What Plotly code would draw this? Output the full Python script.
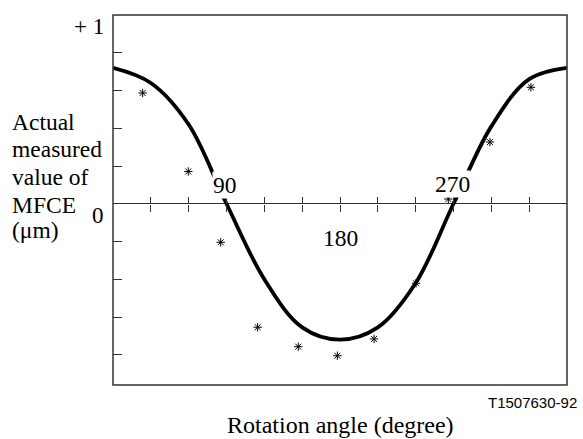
import plotly.graph_objects as go

# ---- data ----
curve_angle = [0, 30, 60, 90, 120, 150, 180, 210, 240, 270, 300, 330, 360]
curve_value = [0.72, 0.64, 0.42, 0.00, -0.40, -0.655, -0.72, -0.655, -0.42, 0.00, 0.41, 0.66, 0.72]

star_angle = [23.5, 59.7, 85.4, 114.7, 146.9, 177.9, 207.0, 240.3, 265.9, 298.9, 331.4]
star_value = [0.587, 0.171, -0.204, -0.654, -0.757, -0.805, -0.716, -0.421, 0.025, 0.327, 0.617]

x_ticks = [30, 60, 90, 120, 150, 180, 210, 240, 270, 300, 330]
y_ticks = [-0.8, -0.6, -0.4, -0.2, 0.2, 0.4, 0.6, 0.8]

angle_labels = ["90", "180", "270"]
angle_label_pos = [90, 180, 270]
value_labels = ["+ 1", "0", "\u2212 1"]
value_label_pos = [1, 0, -1]
y_title_lines = ["Actual", "measured", "value of", "MFCE", "(\u03bcm)"]
x_title = "Rotation angle (degree)"
figure_code = "T1507630-92"

# ---- layout constants ----
W, H = 583, 439
ML, MR, MT, MB = 113, 16, 15, 54
Y_RANGE = [-0.96, 1.0]
X_RANGE = [0, 360]
zero_pos = (0 - Y_RANGE[0]) / (Y_RANGE[1] - Y_RANGE[0])
SERIF = "Liberation Serif, Times New Roman, serif"
AX = "#333333"

fig = go.Figure()

fig.add_trace(go.Scatter(
    x=curve_angle, y=curve_value, mode="lines",
    line=dict(color="black", width=3.8, shape="spline", smoothing=1.0),
    hoverinfo="skip", showlegend=False, xaxis="x", yaxis="y"))

fig.add_trace(go.Scatter(
    x=star_angle, y=star_value, mode="markers",
    marker=dict(symbol="asterisk-open", size=7, color="black",
                line=dict(color="black", width=1.0)),
    hoverinfo="skip", showlegend=False, xaxis="x", yaxis="y"))

# invisible trace to activate the overlaid tick axis
fig.add_trace(go.Scatter(x=[X_RANGE[0]], y=[0], mode="markers",
                         marker=dict(opacity=0), hoverinfo="skip",
                         showlegend=False, xaxis="x2", yaxis="y"))

axis_common = dict(range=X_RANGE, tickvals=x_ticks, showticklabels=False,
                   showgrid=False, zeroline=False, showline=False,
                   ticklen=7, tickwidth=1.2, tickcolor=AX,
                   anchor="free", position=zero_pos)

fig.update_layout(
    width=W, height=H,
    margin=dict(l=ML, r=MR, t=MT, b=MB),
    paper_bgcolor="white", plot_bgcolor="white",
    xaxis=dict(ticks="outside", **axis_common),
    xaxis2=dict(ticks="inside", overlaying="x", **axis_common),
    yaxis=dict(range=Y_RANGE, tickvals=y_ticks, ticks="inside", ticklen=9,
               tickwidth=1.2, tickcolor=AX, showticklabels=False,
               showgrid=False, showline=False,
               zeroline=True, zerolinecolor=AX, zerolinewidth=1.3),
    shapes=[dict(type="rect", xref="paper", yref="paper", x0=0, y0=0, x1=1, y1=1,
                 line=dict(color=AX, width=1.5), layer="above")],
    showlegend=False,
)

ann = []
vshift = {1: -11, 0: -12, -1: -7}
for t, v in zip(value_labels, value_label_pos):
    ann.append(dict(text=t, xref="paper", x=0, xanchor="right", xshift=-7,
                    yref="y", y=v, yanchor="middle", yshift=vshift[v],
                    showarrow=False, font=dict(family=SERIF, size=23, color="black")))

ashift = {90: (-1.5, 19, True), 180: (0, -34, False), 270: (-1.5, 20, True)}
for t, a in zip(angle_labels, angle_label_pos):
    dx, dy, bg = ashift[a]
    ann.append(dict(text=t, xref="x", x=a, xanchor="center", xshift=dx,
                    yref="y", y=0, yanchor="middle", yshift=dy,
                    showarrow=False, bgcolor="white" if bg else None, borderpad=0,
                    font=dict(family=SERIF, size=23.5, color="black")))

line_shifts = [82, 55, 27, -1, -26]
for t, s in zip(y_title_lines, line_shifts):
    ann.append(dict(text=t, xref="paper", x=0, xanchor="left", xshift=-103,
                    yref="y", y=0, yanchor="middle", yshift=s,
                    showarrow=False, font=dict(family=SERIF, size=23.5, color="black")))

ann.append(dict(text=x_title, xref="paper", x=0.5, xanchor="center",
                yref="paper", y=0, yanchor="middle", yshift=-40,
                showarrow=False, font=dict(family=SERIF, size=24, color="black")))

ann.append(dict(text=figure_code, xref="paper", x=1, xanchor="right", xshift=12,
                yref="paper", y=0, yanchor="middle", yshift=-17,
                showarrow=False, font=dict(family="Liberation Sans, Arial, sans-serif",
                                           size=15, color="black")))

fig.update_layout(annotations=ann)

fig.write_html("out.html", config={"displayModeBar": False},
               post_script="document.body.style.margin='0';document.body.style.overflow='hidden';")
